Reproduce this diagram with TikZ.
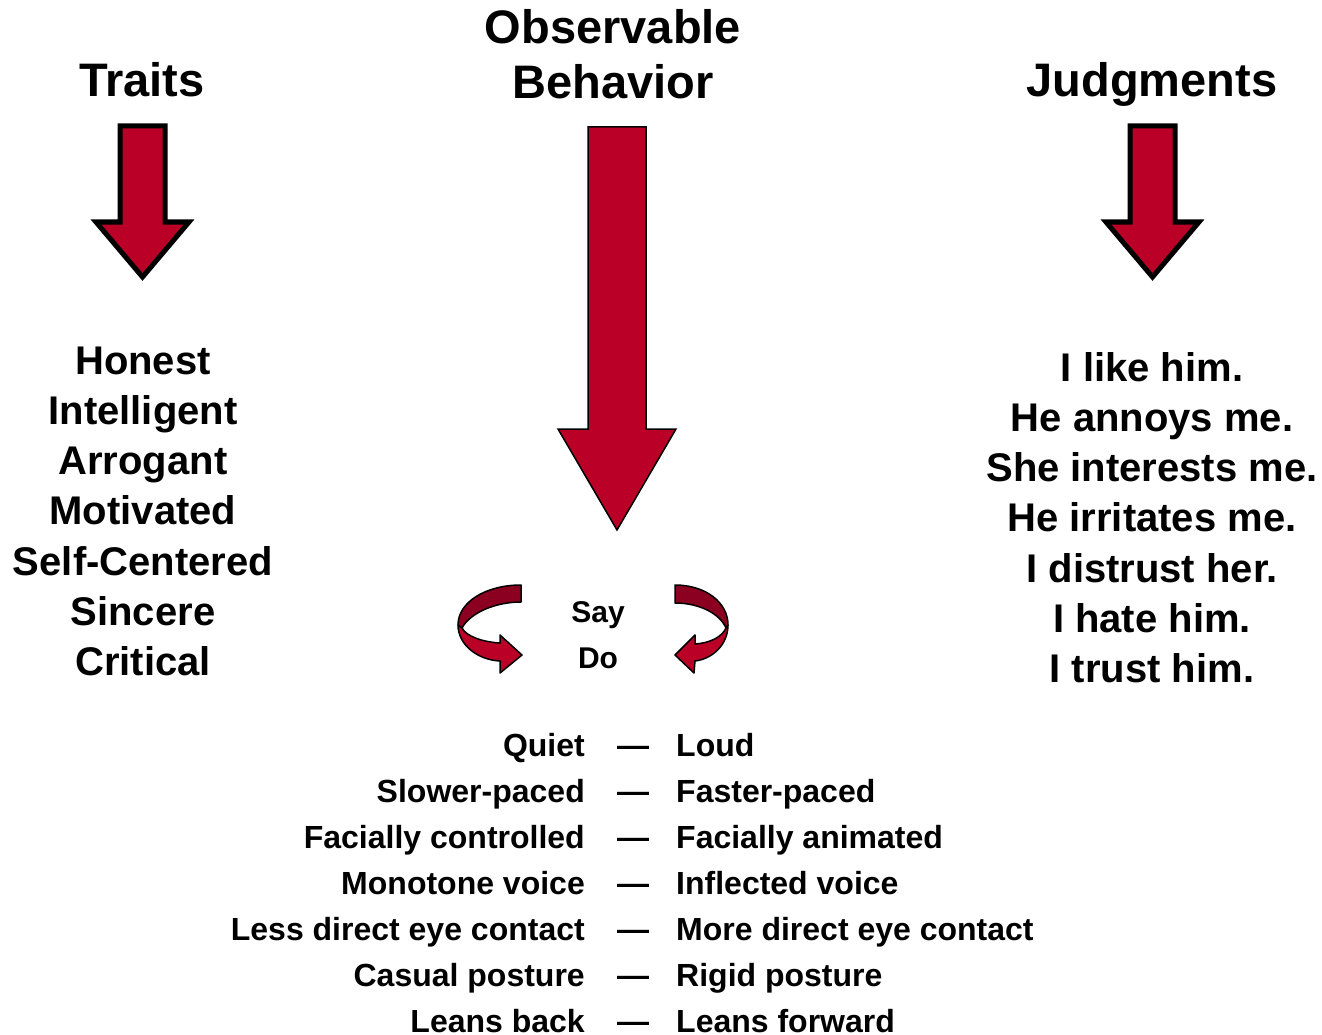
\documentclass[tikz,border=0pt]{standalone}
\usepackage{fontspec}
\setmainfont{Liberation Sans}
\begin{document}
\definecolor{arrowred}{RGB}{186,0,38}
\definecolor{backred}{RGB}{139,0,32}
\begin{tikzpicture}[x=1pt,y=-1pt,
  title/.style={font=\fontsize{47}{56}\selectfont\bfseries, anchor=base, inner sep=0pt},
  item/.style={font=\fontsize{40}{48}\selectfont\bfseries, anchor=base, inner sep=0pt},
  saydo/.style={font=\fontsize{30}{36}\selectfont\bfseries, anchor=base, inner sep=0pt},
  pairleft/.style={font=\fontsize{32}{38}\selectfont\bfseries, anchor=base east, inner sep=0pt, text depth=0pt},
  pairright/.style={font=\fontsize{32}{38}\selectfont\bfseries, anchor=base west, inner sep=0pt, text depth=0pt},
  pairdash/.style={font=\fontsize{32}{38}\selectfont\bfseries, anchor=base, inner sep=0pt, text depth=0pt},
  thickarrow/.style={fill=arrowred, draw=black, line width=5pt, miter limit=10},
  thinarrow/.style={fill=arrowred, draw=black, line width=1.5pt},
  frontband/.style={fill=arrowred, draw=black, line width=1.5pt, line join=round},
  backband/.style={fill=backred, draw=black, line width=1.5pt, line join=round}
]
\useasboundingbox (0,0) rectangle (1322,1035);

% column headings
\node[title] (traits) at (142,97) {Traits};
\node[title] (obs1) at (613,43.5) {Observable};
\node[title] (obs2) at (613,99) {Behavior};
\node[title] (judg) at (1152,97) {Judgments};

% block arrows under the headings
\path[thickarrow] (120,126) -- (165,126) -- (165,222) -- (189,222) -- (142.5,277)
  -- (96,222) -- (120,222) -- cycle;
\path[thickarrow, shift={(1010,0)}] (120,126) -- (165,126) -- (165,222) -- (189,222)
  -- (142.5,277) -- (96,222) -- (120,222) -- cycle;
\path[thinarrow] (588,127) -- (646,127) -- (646,429) -- (676,429) -- (617,530)
  -- (558,429) -- (588,429) -- cycle;

% traits
\foreach \t [count=\i from 0] in {Honest,Intelligent,Arrogant,Motivated,Self-Centered,Sincere,Critical}
  \node[item] (trait\i) at (143,374+50.3*\i) {\t};

% judgments
\foreach \t [count=\i from 0] in {I like him.,He annoys me.,She interests me.,He irritates me.,I distrust her.,I hate him.,I trust him.}
  \node[item] (judge\i) at (1152,381+50.3*\i) {\t};

% say / do with the turning arrows
\node[saydo] (say) at (598,622) {Say};
\node[saydo] (do) at (598,668) {Do};

\path[backband] (521,585) .. controls (486,585) and (458,602) .. (458,625)
  -- (462,628) .. controls (470,613) and (495,602) .. (521,602) -- cycle;
\path[frontband] (458,625) .. controls (458,645) and (478,660) .. (500,661)
  -- (500,673) -- (522,655) -- (500,635) -- (500,643)
  .. controls (482,642) and (466,636) .. (462,628) -- cycle;

\path[backband] (675,585) .. controls (705,585) and (728,602) .. (728,625)
  -- (726,628) .. controls (720,614) and (700,603) .. (675,603) -- cycle;
\path[frontband] (728,625) .. controls (728,645) and (712,659) .. (695,661)
  -- (694,673) -- (675,655) -- (695,635) -- (695,644)
  .. controls (710,643) and (722,637) .. (726,628) -- cycle;

% behaviour pairs
\foreach \l/\r [count=\i from 0] in {Quiet/Loud, Slower-paced/Faster-paced,
    Facially controlled/Facially animated, Monotone voice/Inflected voice,
    Less direct eye contact/More direct eye contact, Casual posture/Rigid posture,
    Leans back/Leans forward} {
  \node[pairleft] (low\i) at (585,756.5+46*\i) {\l};
  \node[pairdash] (dash\i) at (633,756.5+46*\i) {—};
  \node[pairright] (high\i) at (676,756.5+46*\i) {\r};
}
\end{tikzpicture}
\end{document}
